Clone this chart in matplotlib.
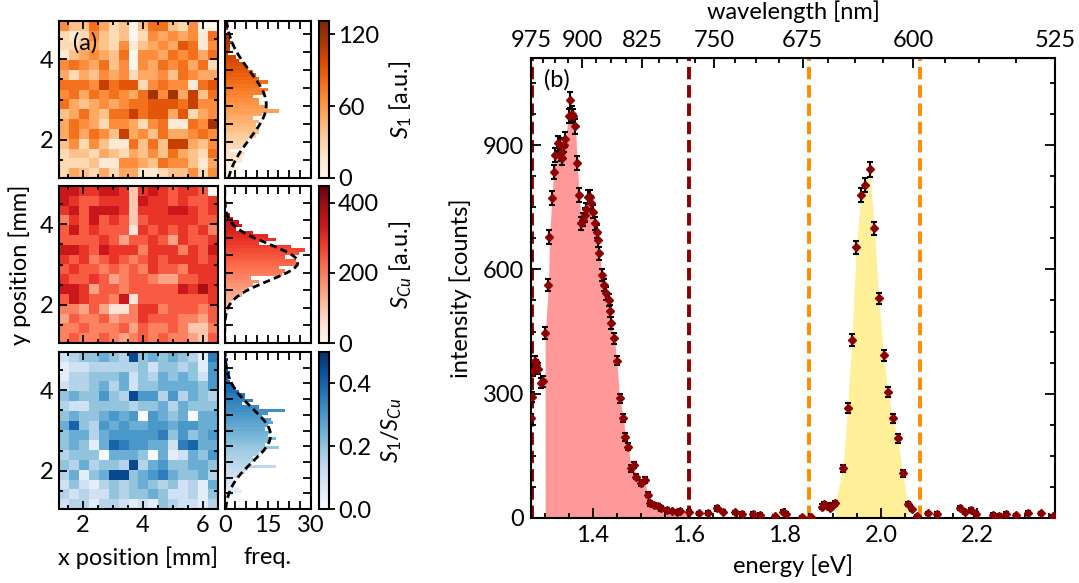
import numpy as np
import matplotlib
matplotlib.use("Agg")
import matplotlib.pyplot as plt
from matplotlib.ticker import MultipleLocator, FixedLocator

plt.rcParams['font.family'] = ['Lato', 'DejaVu Sans']
plt.rcParams['mathtext.fontset'] = 'custom'
plt.rcParams['mathtext.rm'] = 'Lato'
plt.rcParams['mathtext.it'] = 'Lato:italic'
plt.rcParams['font.size'] = 17

s1_rows = ["5336423036632500", "2125323025454516", "2234325134547615", "1345436055465646",
           "5654635054656462", "4243545244536544", "6665867725655167", "5646565469594836",
           "6434545667776855", "3464366867747245", "4654255425611659", "4646538453644565",
           "3525311636388435", "2332432435364326", "2223115543655314", "2432424411233525"]
cu_rows = ["7766776267656650", "7655666276656556", "6757776266677656", "4657565256666655",
           "5756555165656564", "5555653556536556", "7765766646664657", "6564565456566656",
           "5655454546554666", "6556534554335566", "7763554555557686", "5765547155555556",
           "4435311466455545", "3544534465554435", "4454445354454224", "4544543454544325"]
ratio_rows = ["2344543945454317", "1223333342443416", "1334445243545426", "2334535244555546",
              "4544643966363543", "3224444344535444", "4544565606545055", "5843656556656655",
              "4553566666746456", "4541587665527855", "3444055540512546", "4353443935644554",
              "3514599456754453", "2421343454342315", "3232243445422314", "2331332121432213"]
s1_step, cu_step, ratio_step = 13.0, 48.0, 0.05

# histograms (bin centre, count)
s1_bins = [5, 8, 11, 14, 17, 20, 23, 26, 29, 32, 35, 38, 41, 44, 47, 50, 53, 56, 59, 62, 65,
           68, 71, 74, 77, 80, 83, 86, 89, 92, 95, 98, 101, 104, 107, 110, 113, 116, 119, 122, 125, 128]
s1_freq = [1, 5, 3, 6, 6, 7, 2, 6, 7, 8, 11, 12, 12, 11, 12, 10, 13, 19, 14, 12, 12,
           10, 14, 15, 12, 15, 12, 11, 10, 8, 7, 5, 4, 1, 2, 2, 3, 2, 1, 0, 1, 1]
cu_bins = [95, 105, 115, 125, 135, 145, 155, 165, 175, 185, 195, 205, 215, 225, 235, 245,
           255, 265, 275, 285, 295, 305, 315, 325, 335, 345, 355, 365]
cu_freq = [1, 1, 2, 3, 6, 6, 8, 10, 12, 9, 20, 21, 19, 26, 25, 21,
           26, 28, 23, 12, 18, 15, 10, 4, 6, 5, 3, 2]
ratio_bins = [0.015, 0.025, 0.035, 0.045, 0.055, 0.065, 0.075, 0.085, 0.095, 0.105, 0.115,
              0.125, 0.135, 0.145, 0.155, 0.165, 0.175, 0.185, 0.195, 0.205, 0.215, 0.225,
              0.235, 0.245, 0.255, 0.265, 0.275, 0.285, 0.295, 0.305, 0.315, 0.325, 0.335,
              0.345, 0.355, 0.365, 0.375, 0.385, 0.395, 0.405, 0.415, 0.425, 0.435, 0.445, 0.475]
ratio_freq = [1, 1, 2, 3, 6, 5, 3, 4, 3, 5, 7, 8, 18, 9, 11, 10, 12, 14, 19, 14, 16, 18,
              15, 16, 14, 15, 17, 16, 13, 15, 21, 12, 6, 10, 7, 7, 5, 4, 3, 2, 1, 1, 2, 1, 1]
# gaussian fits (amplitude, centre, width)
s1_fit = (14.5, 61, 28)
cu_fit = (25.5, 230, 52)
ratio_fit = (16, 0.235, 0.085)

# ---- panel (b): spectrum
energy = [1.272, 1.273, 1.276, 1.279, 1.283, 1.287, 1.292, 1.296,
          1.301, 1.308, 1.310, 1.315, 1.319, 1.322, 1.327, 1.331, 1.334, 1.336, 1.340, 1.343,
          1.350, 1.353, 1.357, 1.360, 1.364, 1.368, 1.372, 1.376, 1.380, 1.384, 1.387, 1.391,
          1.394, 1.397, 1.400, 1.405, 1.409, 1.411, 1.414, 1.419, 1.423, 1.428, 1.433, 1.435,
          1.438, 1.445, 1.450, 1.456, 1.464, 1.468, 1.474, 1.480, 1.485, 1.491, 1.500, 1.508,
          1.514, 1.519, 1.527, 1.535, 1.543, 1.555, 1.565, 1.575, 1.582, 1.600, 1.622, 1.640,
          1.658, 1.670, 1.695, 1.710, 1.733, 1.748, 1.780, 1.795, 1.802, 1.836, 1.855,
          1.877, 1.882, 1.888, 1.893, 1.898, 1.904, 1.9205, 1.930, 1.939, 1.948, 1.958, 1.967,
          1.976, 1.986, 1.995, 2.005, 2.014, 2.025, 2.034, 2.045, 2.055, 2.065, 2.074,
          2.097, 2.116, 2.163, 2.175, 2.186, 2.198, 2.233, 2.245, 2.260, 2.280, 2.306, 2.333, 2.358]
counts = [241, 293, 355, 378, 368, 360, 326, 330,
          446, 562, 678, 772, 834, 876, 904, 898, 880, 868, 900, 914,
          970, 1009, 975, 970, 945, 856, 780, 711, 720, 731, 745, 774,
          774, 760, 739, 711, 691, 670, 639, 587, 562, 542, 526, 500,
          470, 434, 380, 289, 241, 196, 172, 120, 128, 100, 84, 92,
          56, 35, 31, 29, 23, 19, 16, 15, 18, 15, 11, 12,
          23, 15, 14, 10, 10, 8, 5, 15, 10, 3, 2,
          27, 33, 30, 25, 30, 35, 120, 265, 430, 653, 780, 804,
          842, 699, 530, 393, 303, 241, 192, 108, 34, 21, 5,
          11, 10, 25, 14, 19, 10, 8, 6, 10, 7, 13, 11, 4]
errors = [11, 12, 13, 13, 13, 13, 13, 13,
          15, 15, 16, 17, 17, 17, 18, 18, 18, 17, 18, 18,
          18, 19, 18, 18, 18, 17, 17, 16, 16, 16, 16, 17,
          17, 17, 16, 16, 16, 16, 16, 15, 15, 15, 14, 14,
          14, 13, 12, 11, 10, 10, 9, 8, 8, 7, 7, 7,
          6, 5, 5, 5, 5, 4, 4, 4, 4, 4, 4, 4,
          5, 4, 4, 4, 4, 4, 3, 4, 4, 3, 3,
          6, 6, 6, 6, 6, 6, 9, 12, 14, 16, 17, 17,
          18, 16, 14, 13, 12, 11, 10, 8, 5, 4, 3,
          4, 4, 5, 4, 5, 4, 4, 3, 4, 3, 4, 4, 3]
red_window = (1.273, 1.600)
yellow_window = (1.850, 2.080)
wl_ticks = [975, 900, 825, 750, 675, 600, 525]

# ---------------------------------------------------------------------------
fig = plt.figure(figsize=(10.79, 5.83), dpi=100)
W, H = 1079, 583

def box(x0, y0, x1, y1):
    return [x0 / W, 1 - y1 / H, (x1 - x0) / W, (y1 - y0) / H]

def frame(ax, lw=1.5):
    for s in ax.spines.values():
        s.set_linewidth(lw)

extent = [1.2, 6.5, 1.04, 4.96]
rows_y = [(21, 178), (186, 343), (352, 509)]
panels = [
    (s1_rows, s1_step, 'Oranges', 131, s1_bins, s1_freq, 3, s1_fit, 60, [0, 60, 120],
     r'$S_1$ [a.u.]'),
    (cu_rows, cu_step, 'Reds', 448, cu_bins, cu_freq, 10, cu_fit, 200, [0, 200, 400],
     r'$S_{Cu}$ [a.u.]'),
    (ratio_rows, ratio_step, 'Blues', 0.5, ratio_bins, ratio_freq, 0.01, ratio_fit, 0.2,
     [0.0, 0.2, 0.4], r'$S_1/S_{Cu}$'),
]

for i, (rows, step, cmap, vmax, hb, hf, bw, fit, cmaj, cticks, clabel) in enumerate(panels):
    y0, y1 = rows_y[i]
    last = i == 2

    axm = fig.add_axes(box(59, y0, 217.5, y1))
    grid = np.array([[int(c) for c in r] for r in rows]) * step
    im = axm.imshow(grid, cmap=cmap, vmin=0, vmax=vmax, extent=extent,
                    aspect='auto', interpolation='nearest')
    axm.xaxis.set_major_locator(MultipleLocator(2))
    axm.xaxis.set_minor_locator(MultipleLocator(0.5))
    axm.yaxis.set_major_locator(MultipleLocator(2))
    axm.yaxis.set_minor_locator(MultipleLocator(0.5))
    axm.tick_params(which='both', direction='in', top=True, right=True, width=1.3,
                    labelbottom=last, pad=4)
    axm.tick_params(which='major', length=6)
    axm.tick_params(which='minor', length=3)
    frame(axm)
    if i == 0:
        axm.text(0.09, 0.93, '(a)', transform=axm.transAxes, va='top', ha='left')
    if i == 1:
        axm.set_ylabel('y position [mm]', labelpad=6)
    if last:
        axm.set_xlabel('x position [mm]', labelpad=8)

    axh = fig.add_axes(box(224.7, y0, 310.7, y1))
    hb = np.array(hb, float)
    axh.barh(hb, hf, height=bw, color=plt.get_cmap(cmap)(hb / vmax), linewidth=0)
    yy = np.linspace(0, vmax, 400)
    axh.plot(fit[0] * np.exp(-(yy - fit[1]) ** 2 / (2 * fit[2] ** 2)), yy, color='k',
             lw=2.0, dashes=(2.6, 1.5))
    axh.set_xlim(0, 30)
    axh.set_ylim(0, vmax)
    axh.set_xticks([0, 15, 30])
    axh.xaxis.set_minor_locator(MultipleLocator(3.75))
    axh.yaxis.set_major_locator(MultipleLocator(cmaj))
    axh.yaxis.set_minor_locator(MultipleLocator(cmaj / 4))
    axh.tick_params(which='both', direction='in', top=True, right=True, width=1.3,
                    labelleft=False, labelbottom=last, pad=4)
    axh.tick_params(which='major', length=6)
    axh.tick_params(which='minor', length=6)
    frame(axh)
    if last:
        axh.set_xlabel('freq.', labelpad=8)

    cax = fig.add_axes(box(318.7, y0, 328.5, y1))
    cb = fig.colorbar(im, cax=cax)
    cb.set_ticks(cticks)
    cb.outline.set_linewidth(1.5)
    cax.tick_params(direction='out', length=4, width=1.3, pad=3)
    cb.set_label(clabel, labelpad=6)

# ---- panel (b)
energy = np.array(energy)
counts = np.array(counts)
ax = fig.add_axes(box(531, 58, 1055, 518))
ax.set_xlim(1239.84 / 975, 1239.84 / 525)
ax.set_ylim(0, 1110)

mask_r = (energy >= 1.300) & (energy <= red_window[1])
ax.fill_between(energy[mask_r], counts[mask_r], color='red', alpha=0.4, lw=0)
mask_y = (energy >= 1.903) & (energy <= 2.056)
ax.fill_between(energy[mask_y], counts[mask_y], color='gold', alpha=0.4, lw=0)

for e in red_window:
    ax.axvline(e, color='darkred', lw=2.8, dashes=(3.2, 1.5), zorder=1)
for e in yellow_window:
    ax.axvline(e, color='darkorange', lw=2.8, dashes=(3.2, 1.5), zorder=1)

ax.errorbar(energy, counts, yerr=errors, fmt='D', ms=4.3, color='darkred', mec='darkred',
            ecolor='black', elinewidth=1.5, capsize=2.5, capthick=1.5, zorder=3)

ax.xaxis.set_major_locator(MultipleLocator(0.2))
ax.xaxis.set_minor_locator(MultipleLocator(0.05))
ax.yaxis.set_major_locator(MultipleLocator(300))
ax.yaxis.set_minor_locator(MultipleLocator(75))
ax.tick_params(which='both', direction='in', top=False, right=True, width=1.3, pad=5)
ax.tick_params(which='major', length=7)
ax.tick_params(which='minor', length=3.5)
frame(ax)
ax.set_xlabel('energy [eV]', labelpad=6)
ax.set_ylabel('intensity [counts]', labelpad=8)
ax.text(0.025, 0.975, '(b)', transform=ax.transAxes, va='top', ha='left')


def e2l(x):
    x = np.asarray(x, float)
    with np.errstate(divide='ignore'):
        return 1239.84 / x


sec = ax.secondary_xaxis('top', functions=(e2l, e2l))
sec.set_xticks(wl_ticks)
sec.xaxis.set_minor_locator(FixedLocator(np.arange(525, 976, 18.75)))
sec.tick_params(which='both', direction='in', width=1.3, pad=5)
sec.tick_params(which='major', length=7)
sec.tick_params(which='minor', length=3.5)
sec.set_xlabel('wavelength [nm]', labelpad=8)

fig.savefig('out.png', dpi=100)
